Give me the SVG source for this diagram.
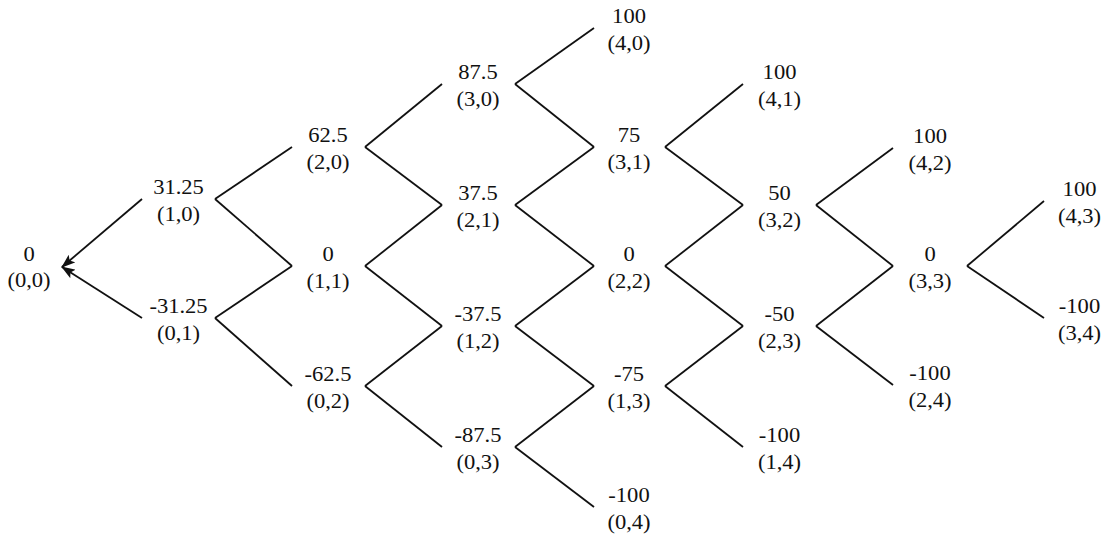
<svg xmlns="http://www.w3.org/2000/svg" width="1115" height="538" viewBox="0 0 1115 538">
<defs>
<style>
text{font-family:"Liberation Serif","Times New Roman",serif;font-size:20.5px;fill:#111;text-anchor:middle}
.c line{stroke:#111;stroke-width:1.8;fill:none}
</style>
<marker id="ah" viewBox="0 0 14 10" refX="13" refY="5" markerWidth="14" markerHeight="10" markerUnits="userSpaceOnUse" orient="auto">
<path d="M0,0 L14,5 L0,10 L3,5 Z" fill="#111"/>
</marker>
</defs>
<rect width="1115" height="538" fill="#fff"/>
<g class="c" id="connectors">
<line x1="142" y1="199" x2="62" y2="267" marker-end="url(#ah)"/>
<line x1="142" y1="318" x2="62" y2="267" marker-end="url(#ah)"/>
<line x1="215" y1="199" x2="292" y2="147"/><line x1="215" y1="199" x2="292" y2="266"/>
<line x1="215" y1="318" x2="292" y2="266"/><line x1="215" y1="318" x2="292" y2="386"/>
<line x1="365" y1="147" x2="442" y2="84"/><line x1="365" y1="147" x2="442" y2="205"/>
<line x1="365" y1="266" x2="442" y2="205"/><line x1="365" y1="266" x2="442" y2="326"/>
<line x1="365" y1="386" x2="442" y2="326"/><line x1="365" y1="386" x2="442" y2="447"/>
<line x1="515" y1="84" x2="594" y2="28"/><line x1="515" y1="84" x2="594" y2="147"/>
<line x1="515" y1="205" x2="594" y2="147"/><line x1="515" y1="205" x2="594" y2="266"/>
<line x1="515" y1="326" x2="594" y2="266"/><line x1="515" y1="326" x2="594" y2="386"/>
<line x1="515" y1="447" x2="594" y2="386"/><line x1="515" y1="447" x2="594" y2="507"/>
<line x1="665" y1="147" x2="743" y2="84"/><line x1="665" y1="147" x2="743" y2="205"/>
<line x1="665" y1="266" x2="743" y2="205"/><line x1="665" y1="266" x2="743" y2="326"/>
<line x1="665" y1="386" x2="743" y2="326"/><line x1="665" y1="386" x2="743" y2="447"/>
<line x1="816" y1="205" x2="893" y2="148"/><line x1="816" y1="205" x2="893" y2="266"/>
<line x1="816" y1="326" x2="893" y2="266"/><line x1="816" y1="326" x2="893" y2="385"/>
<line x1="967" y1="266" x2="1044" y2="201"/><line x1="967" y1="266" x2="1044" y2="318"/>
</g>
<g id="n00" transform="translate(29,266)"><text transform="scale(1.1,1)" y="-5">0</text><text transform="scale(1.1,1)" y="21">(0,0)</text></g>
<g id="n10" transform="translate(178.5,199)"><text transform="scale(1.1,1)" y="-5">31.25</text><text transform="scale(1.1,1)" y="22">(1,0)</text></g>
<g id="n01" transform="translate(178.5,318)"><text transform="scale(1.1,1)" y="-5">-31.25</text><text transform="scale(1.1,1)" y="22">(0,1)</text></g>
<g id="n20" transform="translate(328,147)"><text transform="scale(1.1,1)" y="-5">62.5</text><text transform="scale(1.1,1)" y="22">(2,0)</text></g>
<g id="n11" transform="translate(328,266)"><text transform="scale(1.1,1)" y="-5">0</text><text transform="scale(1.1,1)" y="22">(1,1)</text></g>
<g id="n02" transform="translate(328,386)"><text transform="scale(1.1,1)" y="-5">-62.5</text><text transform="scale(1.1,1)" y="22">(0,2)</text></g>
<g id="n30" transform="translate(478,84)"><text transform="scale(1.1,1)" y="-5">87.5</text><text transform="scale(1.1,1)" y="22">(3,0)</text></g>
<g id="n21" transform="translate(478,205)"><text transform="scale(1.1,1)" y="-5">37.5</text><text transform="scale(1.1,1)" y="22">(2,1)</text></g>
<g id="n12" transform="translate(478,326)"><text transform="scale(1.1,1)" y="-5">-37.5</text><text transform="scale(1.1,1)" y="22">(1,2)</text></g>
<g id="n03" transform="translate(478,447)"><text transform="scale(1.1,1)" y="-5">-87.5</text><text transform="scale(1.1,1)" y="22">(0,3)</text></g>
<g id="n40" transform="translate(629,28)"><text transform="scale(1.1,1)" y="-5">100</text><text transform="scale(1.1,1)" y="22">(4,0)</text></g>
<g id="n31" transform="translate(629,147)"><text transform="scale(1.1,1)" y="-5">75</text><text transform="scale(1.1,1)" y="22">(3,1)</text></g>
<g id="n22" transform="translate(629,266)"><text transform="scale(1.1,1)" y="-5">0</text><text transform="scale(1.1,1)" y="22">(2,2)</text></g>
<g id="n13" transform="translate(629,386)"><text transform="scale(1.1,1)" y="-5">-75</text><text transform="scale(1.1,1)" y="22">(1,3)</text></g>
<g id="n04" transform="translate(629,507)"><text transform="scale(1.1,1)" y="-5">-100</text><text transform="scale(1.1,1)" y="22">(0,4)</text></g>
<g id="n41" transform="translate(779.5,84)"><text transform="scale(1.1,1)" y="-5">100</text><text transform="scale(1.1,1)" y="22">(4,1)</text></g>
<g id="n32" transform="translate(779.5,205)"><text transform="scale(1.1,1)" y="-5">50</text><text transform="scale(1.1,1)" y="22">(3,2)</text></g>
<g id="n23" transform="translate(779.5,326)"><text transform="scale(1.1,1)" y="-5">-50</text><text transform="scale(1.1,1)" y="22">(2,3)</text></g>
<g id="n14" transform="translate(779.5,447)"><text transform="scale(1.1,1)" y="-5">-100</text><text transform="scale(1.1,1)" y="22">(1,4)</text></g>
<g id="n42" transform="translate(930,148)"><text transform="scale(1.1,1)" y="-5">100</text><text transform="scale(1.1,1)" y="22">(4,2)</text></g>
<g id="n33" transform="translate(930,266)"><text transform="scale(1.1,1)" y="-5">0</text><text transform="scale(1.1,1)" y="22">(3,3)</text></g>
<g id="n24" transform="translate(930,385)"><text transform="scale(1.1,1)" y="-5">-100</text><text transform="scale(1.1,1)" y="22">(2,4)</text></g>
<g id="n43" transform="translate(1079.5,201)"><text transform="scale(1.1,1)" y="-5">100</text><text transform="scale(1.1,1)" y="22">(4,3)</text></g>
<g id="n34" transform="translate(1079.5,318)"><text transform="scale(1.1,1)" y="-5">-100</text><text transform="scale(1.1,1)" y="22">(3,4)</text></g>
</svg>
